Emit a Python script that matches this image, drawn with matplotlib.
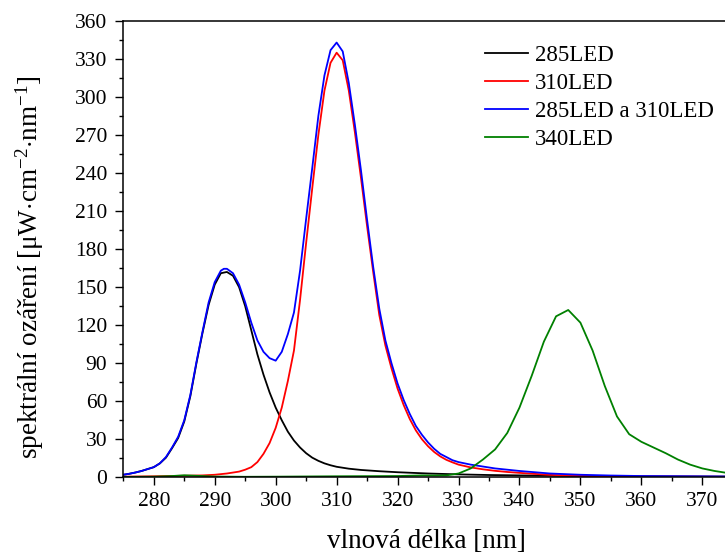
import matplotlib
matplotlib.use('Agg')
import matplotlib.pyplot as plt
from matplotlib.ticker import MultipleLocator

plt.rcParams['font.family'] = ['Liberation Serif', 'DejaVu Serif']
plt.rcParams['mathtext.fontset'] = 'custom'
plt.rcParams['mathtext.rm'] = 'Liberation Serif'
plt.rcParams['mathtext.it'] = 'Liberation Serif:italic'

# 285LED
wl_285 = [275, 276, 277, 278, 279, 280, 281, 282, 283, 284, 285, 286, 287, 288, 289, 290,
          291, 292, 293, 294, 295, 296, 297, 298, 299, 300, 301, 302, 303, 304, 305, 306,
          307, 308, 309, 310, 312, 314, 317, 320, 325, 330, 335, 340, 350, 360, 375]
val_285 = [2, 2.8, 3.8, 5, 6.5, 8, 11, 15.5, 23, 31, 44, 64, 90, 114, 136, 152,
           161, 162, 159, 150, 135, 116, 97, 81, 67, 55, 45, 36, 29, 23.5, 19, 15.5,
           13, 11, 9.5, 8.3, 6.8, 5.8, 4.8, 4, 3, 2.3, 1.8, 1.5, 1, 0.7, 0.5]

# 310LED
wl_310 = [275, 280, 285, 288, 290, 292, 294, 295, 296, 297, 298, 299, 300, 301, 302, 303,
          304, 305, 306, 307, 308, 309, 310, 311, 312, 313, 314, 315, 316, 317, 318, 319,
          320, 321, 322, 323, 324, 325, 326, 327, 328, 329, 330, 332, 334, 336, 338, 340,
          345, 350, 355, 360, 375]
val_310 = [0.5, 0.8, 1.2, 1.5, 2, 3, 4.5, 6, 8, 12, 18.5, 27, 39, 55, 76, 100,
           140, 185, 228, 270, 305, 327, 335, 329, 305, 272, 236, 198, 162, 128, 104, 86,
           70, 57, 46, 37, 30, 24.5, 20, 16.5, 13.8, 11.8, 10, 7.8, 6.3, 5.1, 4.2, 3.5,
           1.9, 1.2, 0.8, 0.6, 0.4]

# 285LED a 310LED
wl_both = [275, 276, 277, 278, 279, 280, 281, 282, 283, 284, 285, 286, 287, 288, 289, 290,
           291, 291.5, 292, 293, 294, 295, 296, 297, 298, 299, 300, 301, 302, 303, 304, 305,
           306, 307, 308, 309, 310, 311, 312, 313, 314, 315, 316, 317, 318, 319, 320, 321,
           322, 323, 324, 325, 326, 327, 328, 329, 330, 332, 334, 336, 338, 340, 345, 350,
           355, 360, 375]
val_both = [2, 2.8, 3.8, 5, 6.5, 8, 11, 16, 23.5, 32, 45, 65, 91, 115, 138, 154,
            163, 164.5, 164.5, 161, 152, 138, 122, 108, 99, 94, 92, 99, 113, 130, 163, 204,
            244, 285, 317, 337, 343, 336, 311, 278, 242, 203, 166, 133, 108, 90, 74, 61,
            50, 40.5, 33.5, 27.5, 22.5, 18.5, 16, 13.5, 12, 10, 8.5, 7, 6, 5, 3, 2,
            1.4, 1, 0.6]

# 340LED
wl_340 = [275, 280, 283, 285, 287, 290, 295, 300, 310, 320, 324, 326, 328, 330, 332, 334,
          336, 338, 340, 342, 344, 346, 348, 350, 352, 354, 356, 358, 360, 362, 364, 366,
          368, 370, 372, 374, 375]
val_340 = [0.3, 0.5, 1, 1.6, 1.2, 0.6, 0.4, 0.5, 0.8, 1, 1.5, 1.4, 1.5, 3, 7, 14,
           22, 35, 55, 80, 107, 127, 132, 122, 100, 72, 48, 34, 28, 23.5, 19, 14,
           10, 7, 5, 3.5, 3]

W, H = 725, 553
ax_left, ax_right, ax_top, ax_bottom = 123.3, 730, 21, 477.3

fig = plt.figure(figsize=(W / 100, H / 100), dpi=100)
ax = fig.add_axes([ax_left / W, (H - ax_bottom) / H,
                   (ax_right - ax_left) / W, (ax_bottom - ax_top) / H])

ax.plot(wl_285, val_285, color='black', lw=1.3, label='285LED')
ax.plot(wl_310, val_310, color='red', lw=1.3, label='310LED')
ax.plot(wl_both, val_both, color='blue', lw=1.3, label='285LED a 310LED')
ax.plot(wl_340, val_340, color='green', lw=1.3, label='340LED')

# 280 nm sits at x=153.3 px, 6.1 px per nm
ax.set_xlim(275, 280 + (ax_right - 153.3) / 6.1)
ax.set_ylim(0, 360)
ax.xaxis.set_major_locator(MultipleLocator(10))
ax.xaxis.set_minor_locator(MultipleLocator(5))
ax.yaxis.set_major_locator(MultipleLocator(30))
ax.yaxis.set_minor_locator(MultipleLocator(15))
ax.tick_params(which='both', direction='out', top=False, right=False, labelsize=15.5)
ax.tick_params(which='major', length=5.5, width=1)
ax.tick_params(which='minor', length=3, width=1)
ax.tick_params(axis='x', which='major', pad=5)
ax.tick_params(axis='y', which='major', pad=6)
ax.spines['right'].set_visible(False)
for sp in ax.spines.values():
    sp.set_linewidth(1.1)

ax.set_xlabel('vlnová délka [nm]', fontsize=19.5, labelpad=13)
ax.set_ylabel(r'spektrální ozáření [$\mathrm{\mu W{\cdot}cm^{-2}{\cdot}nm^{-1}}$]',
              fontsize=19.5)
ax.yaxis.set_label_coords((46 - ax_left) / (ax_right - ax_left), 0.46)

ax.legend(loc='upper left', bbox_to_anchor=(485 / W, 1 - 45 / H),
          bbox_transform=fig.transFigure, frameon=False, fontsize=16.5,
          borderpad=0, borderaxespad=0, handlelength=1.88, handletextpad=0.3,
          labelspacing=0.31)

plt.savefig('out.png', dpi=100)
